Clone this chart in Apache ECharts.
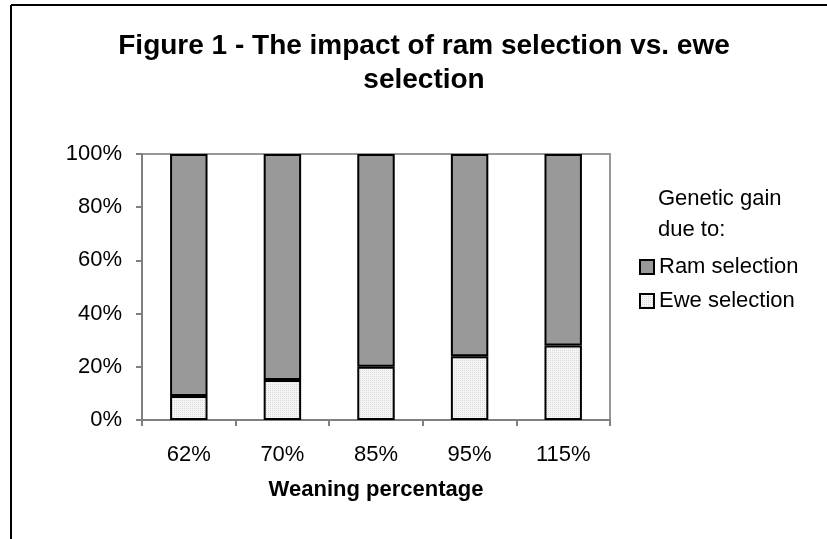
<!DOCTYPE html>
<html>
<head>
<meta charset="utf-8">
<script src="https://cdn.jsdelivr.net/npm/echarts@6/dist/echarts.min.js"></script>
<style>
  html, body { margin: 0; padding: 0; background: #fff; }
  #chart { width: 827px; height: 539px; }
</style>
</head>
<body>
<div id="chart"></div>
<script>
// Weaning percentages on the x axis
const categories = ['62%', '70%', '85%', '95%', '115%'];
// Share of genetic gain (percent) due to each selection route
const ramSelection = [91, 85, 80, 76, 72];
const eweSelection = [9, 15, 20, 24, 28];
const yTicks = [0, 20, 40, 60, 80, 100];

// Fine dotted fill for the ewe series
function dotPattern() {
  const c = document.createElement('canvas');
  c.width = 2; c.height = 2;
  const ctx = c.getContext('2d');
  ctx.fillStyle = '#f5f5f5';
  ctx.fillRect(0, 0, 2, 2);
  ctx.fillStyle = '#d9d9d9';
  ctx.fillRect(0, 0, 1, 1);
  return c;
}

const font = 'Liberation Sans, Arial, sans-serif';
const chart = echarts.init(document.getElementById('chart'), null, { renderer: 'canvas' });

chart.setOption({
  animation: false,
  backgroundColor: '#fff',
  textStyle: { fontFamily: font },
  title: {
    text: 'Figure 1 - The impact of ram selection vs. ewe\nselection',
    left: 419, top: 24, textAlign: 'center',
    textStyle: { fontFamily: font, fontSize: 28, fontWeight: 'bold', color: '#000', lineHeight: 34 }
  },
  grid: { left: 142, right: 217, top: 154, bottom: 119, show: true, borderColor: '#999', borderWidth: 2, backgroundColor: 'transparent' },
  legend: {
    orient: 'vertical', left: 634, top: 251,
    itemWidth: 14, itemHeight: 14, itemGap: 12,
    icon: 'rect',
    textStyle: { fontFamily: font, fontSize: 22, lineHeight: 22, color: '#000' },
    data: ['Ram selection', 'Ewe selection']
  },
  graphic: [
    { type: 'text', left: 658, top: 183, style: { text: 'Genetic gain\ndue to:', font: '22px ' + font, fill: '#000', lineHeight: 31 } },
    { type: 'line', shape: { x1: 11, y1: 5, x2: 827, y2: 5 }, style: { stroke: '#000', lineWidth: 2 } },
    { type: 'line', shape: { x1: 11, y1: 5, x2: 11, y2: 539 }, style: { stroke: '#000', lineWidth: 2 } }
  ],
  xAxis: {
    type: 'category', data: categories,
    name: 'Weaning percentage', nameLocation: 'middle', nameGap: 59,
    nameTextStyle: { fontFamily: font, fontSize: 22, fontWeight: 'bold', color: '#000' },
    axisLine: { lineStyle: { color: '#808080', width: 2 } },
    axisTick: { show: true, length: 6, lineStyle: { color: '#808080', width: 2 } },
    axisLabel: { fontFamily: font, fontSize: 22, color: '#000', margin: 24 }
  },
  yAxis: {
    type: 'value', min: yTicks[0], max: yTicks[yTicks.length - 1], interval: 20,
    axisLine: { show: true, lineStyle: { color: '#808080', width: 2 } },
    axisTick: { show: true, length: 6, lineStyle: { color: '#808080', width: 2 } },
    splitLine: { show: false },
    axisLabel: { fontFamily: font, fontSize: 22, color: '#000', margin: 20, formatter: v => v + '%' }
  },
  series: [
    {
      name: 'Ewe selection', type: 'bar', stack: 'gain', barWidth: '40%', data: eweSelection,
      itemStyle: { color: { image: dotPattern(), repeat: 'repeat' }, borderColor: '#000', borderWidth: 2 }
    },
    {
      name: 'Ram selection', type: 'bar', stack: 'gain', barWidth: '40%', data: ramSelection,
      itemStyle: { color: '#999999', borderColor: '#000', borderWidth: 2 }
    }
  ]
});
</script>
</body>
</html>
